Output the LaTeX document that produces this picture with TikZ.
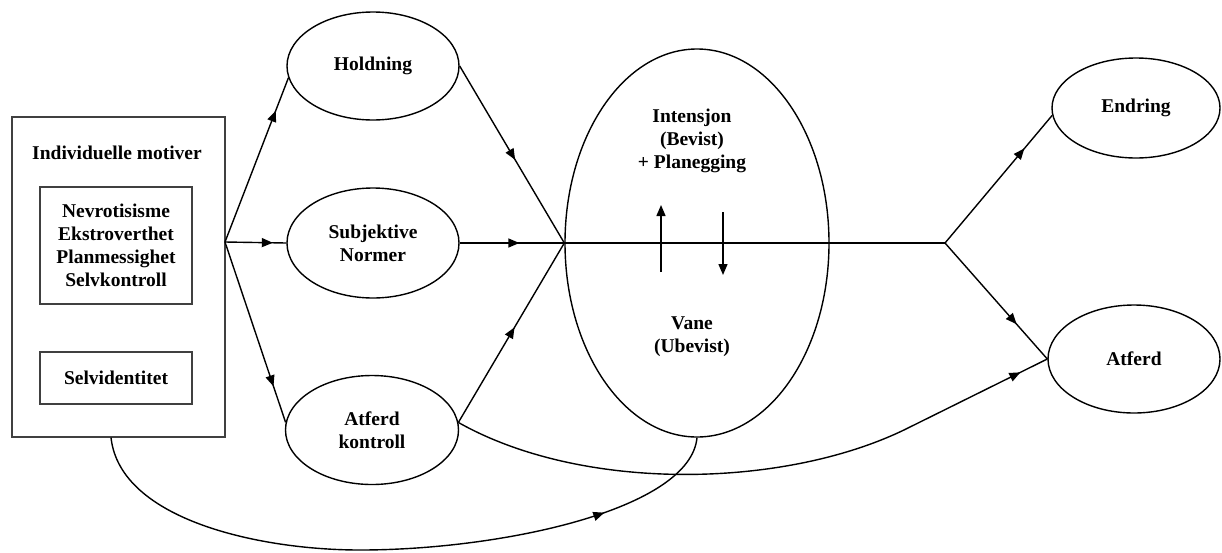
\documentclass[tikz,border=0pt]{standalone}
\usepackage{fontspec}
\setmainfont{Liberation Serif}
\usetikzlibrary{arrows.meta,decorations.markings,shapes.geometric,calc}
\begin{document}
\begin{tikzpicture}[x=1pt,y=-1pt,
  every node/.style={font=\bfseries\fontsize{19.5}{23}\selectfont, align=center},
  ell/.style={draw, ellipse, line width=1.4pt, inner sep=0pt},
  frame/.style={draw=black!75, line width=1.1pt, inner sep=0pt},
  conn/.style={line width=1.4pt},
  marr/.style={postaction={decorate, decoration={markings,
     mark=at position #1 with {\arrow{Triangle[length=11pt,width=9pt]}}}}},
  tiparr/.style={line width=1.4pt, -{Triangle[length=11pt,width=9pt]}}]
\useasboundingbox (0,0) rectangle (1222,552);
% left box
\node[frame, minimum width=213pt, minimum height=320pt] (box) at (118.5,277) {};
\node (indtxt) at (117,153) {Individuelle motiver};
\node[frame, minimum width=152pt, minimum height=117pt] (pers) at (116,245.5)
  {Nevrotisisme\\Ekstroverthet\\Planmessighet\\Selvkontroll};
\node[frame, minimum width=152pt, minimum height=52pt] (selv) at (116,378) {Selvidentitet};
% middle ellipses
\node[ell, minimum width=172pt, minimum height=108pt] (hold) at (373,66) {Holdning};
\node[ell, minimum width=172pt, minimum height=110pt] (subj) at (373,243) {Subjektive\\Normer};
\node[ell, minimum width=173pt, minimum height=109pt] (ak) at (372,430) {Atferd\\kontroll};
% big ellipse
\node[ell, minimum width=264pt, minimum height=388pt] (big) at (697,243) {};
\node (intx) at (692,141) {Intensjon\\(Bevist)\\+ Planegging};
\node (vane) at (692,337) {Vane\\(Ubevist)};
% right ellipses
\node[ell, minimum width=168pt, minimum height=100pt] (endr) at (1136,108) {Endring};
\node[ell, minimum width=172pt, minimum height=108pt] (atf) at (1134,359) {Atferd};
% coordinates
\coordinate (br) at (225,242);
\coordinate (sp) at (945,243);
\coordinate (bend) at (910,427);
\coordinate (upA) at (661,272);
\coordinate (upB) at (661,205);
\coordinate (dnA) at (723,212);
\coordinate (dnB) at (723,275);
\coordinate (boxout) at ([xshift=-7.5pt]box.south);
% connectors from box
\draw[conn, marr=0.8] (br) -- (hold.188);
\draw[conn, marr=0.78] (br) -- (subj.west);
\draw[conn, marr=0.8] (br) -- (ak.175);
% into big ellipse
\draw[conn, marr=0.53] (hold.east) -- (big.west);
\draw[conn, marr=0.57] (subj.east) -- (big.west);
\draw[conn, marr=0.53] (ak.5) -- (big.west);
\draw[conn] (big.west) -- (sp);
% up/down arrows
\draw[tiparr] (upA) -- (upB);
\draw[tiparr] (dnA) -- (dnB);
% to right
\draw[conn, marr=0.74] (sp) -- (endr.185);
\draw[conn, marr=0.7] (sp) -- (atf.west);
\draw[conn, marr=-30pt] (ak.5) .. controls (585,494) and (790,488) .. (bend) -- (atf.west);
% bottom curve
\draw[conn, marr=-125pt] (boxout) .. controls (120,520) and (260,550) .. (360,550)
   .. controls (500,550) and (690,510) .. (big.south);
\end{tikzpicture}
\end{document}
